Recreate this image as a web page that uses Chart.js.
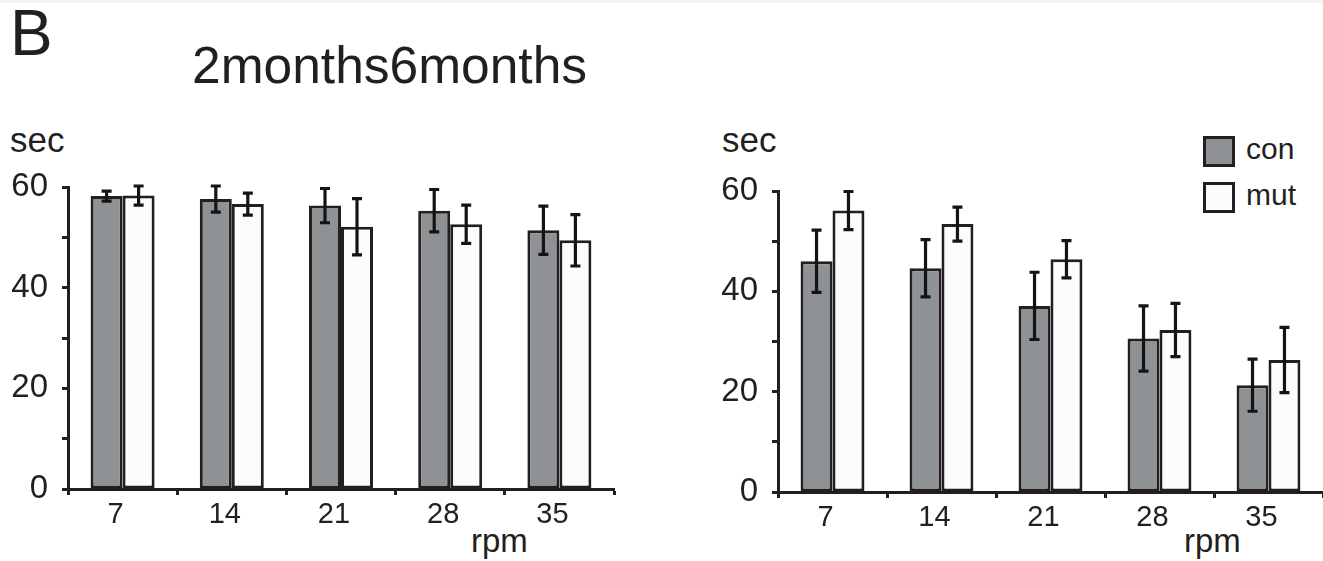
<!DOCTYPE html>
<html>
<head>
<meta charset="utf-8">
<script src="https://cdn.jsdelivr.net/npm/chart.js@4.4.1/dist/chart.umd.min.js"></script>
<style>
  html, body { margin: 0; padding: 0; background: #ffffff; }
  body { width: 1323px; height: 561px; position: relative; overflow: hidden;
         font-family: "Liberation Sans", Arial, sans-serif; color: #231f20; }
  .topband { position: absolute; left: 0; top: 0; width: 1323px; height: 3px; background: #f1f2f4; }
  .txt { position: absolute; white-space: nowrap; line-height: 1; }
  canvas { position: absolute; top: 0; }
  .lg-box { position: absolute; width: 26px; height: 25px; border: 3px solid #231f20; }
</style>
</head>
<body>
<div class="topband"></div>
<div class="txt" id="panel" style="left:10px; top:1px; font-size:64px;">B</div>
<div class="txt" id="title" style="left:192px; top:40px; font-size:51.5px;"></div>
<div class="txt" style="left:10px; top:122px; font-size:35px;">sec</div>
<div class="txt" style="left:722px; top:122px; font-size:35px;">sec</div>
<div class="txt" id="rpmL" style="left:471px; top:524px; font-size:33px;">rpm</div>
<div class="txt" id="rpmR" style="left:1184px; top:524px; font-size:33px;">rpm</div>
<div id="legend"></div>
<canvas id="c2" width="700" height="561" style="left:0px; width:700px; height:561px;"></canvas>
<canvas id="c6" width="623" height="561" style="left:700px; width:623px; height:561px;"></canvas>
<script>
// ---------------- data ----------------
const titleParts = ['2months', '6months'];
const categories = ['7', '14', '21', '28', '35'];
const seriesNames = ['con', 'mut'];
const yTickLabels = [0, 20, 40, 60];

const con2    = [58.2, 57.6, 56.3, 55.3, 51.4];
const conErr2 = [1.0, 2.6, 3.4, 4.2, 4.8];
const mut2    = [58.3, 56.6, 52.1, 52.6, 49.4];
const mutErr2 = [1.9, 2.2, 5.6, 3.8, 5.1];

const con6    = [46.0, 44.6, 37.1, 30.6, 21.3];
const conErr6 = [6.2, 5.7, 6.7, 6.5, 5.2];
const mut6    = [56.1, 53.4, 46.4, 32.3, 26.3];
const mutErr6 = [3.8, 3.4, 3.7, 5.3, 6.5];

// ---------------- styles ----------------
const INK = '#231f20';
const GREY = '#8e9294';
const WHITE = '#fcfcfe';
const FONT = '"Liberation Sans", Arial, sans-serif';

document.getElementById('title').textContent = titleParts.join('');

// legend (HTML)
const legend = document.getElementById('legend');
[[GREY, 136], [WHITE, 182]].forEach((d, i) => {
  const box = document.createElement('div');
  box.className = 'lg-box';
  box.style.left = '1203px';
  box.style.top = d[1] + 'px';
  box.style.background = d[0];
  legend.appendChild(box);
  const t = document.createElement('div');
  t.className = 'txt';
  t.style.left = '1246px';
  t.style.top = (d[1] - 2) + 'px';
  t.style.fontSize = '30px';
  t.textContent = seriesNames[i];
  legend.appendChild(t);
});

const errorBarPlugin = {
  id: 'errorBars',
  afterDatasetsDraw(chart) {
    const ctx = chart.ctx;
    const ys = chart.scales.y;
    ctx.save();
    ctx.strokeStyle = '#141414';
    ctx.lineWidth = 3.2;
    ctx.lineCap = 'butt';
    chart.data.datasets.forEach((ds, i) => {
      const meta = chart.getDatasetMeta(i);
      meta.data.forEach((bar, j) => {
        const v = ds.data[j], e = ds.errors[j];
        const yt = ys.getPixelForValue(v + e);
        const yb = ys.getPixelForValue(v - e);
        const x = bar.x;
        const hw = 5;
        ctx.beginPath();
        ctx.moveTo(x, yt); ctx.lineTo(x, yb);
        ctx.moveTo(x - hw, yt); ctx.lineTo(x + hw, yt);
        ctx.moveTo(x - hw, yb); ctx.lineTo(x + hw, yb);
        ctx.stroke();
      });
    });
    ctx.restore();
  }
};

function makeChart(id, conVals, conErr, mutVals, mutErr, geo) {
  return new Chart(document.getElementById(id), {
    type: 'bar',
    data: {
      labels: categories,
      datasets: [
        { label: seriesNames[0], data: conVals, errors: conErr,
          backgroundColor: GREY, borderColor: INK, borderWidth: 3, borderSkipped: false },
        { label: seriesNames[1], data: mutVals, errors: mutErr,
          backgroundColor: WHITE, borderColor: INK, borderWidth: 3, borderSkipped: false }
      ]
    },
    options: {
      responsive: false,
      animation: false,
      devicePixelRatio: 1,
      datasets: { bar: { categoryPercentage: 0.586, barPercentage: 1.0 } },
      layout: { padding: { left: 0, top: geo.top, right: geo.right, bottom: 0 } },
      plugins: { legend: { display: false }, tooltip: { enabled: false }, title: { display: false } },
      scales: {
        x: {
          offset: true,
          grid: { offset: true, drawOnChartArea: false, drawTicks: true, tickLength: 6,
                  tickColor: INK, tickWidth: 3, color: INK },
          border: { display: true, color: INK, width: 3 },
          ticks: { color: INK, font: { family: FONT, size: 29 }, padding: 3,
                   labelOffset: -7, maxRotation: 0, autoSkip: false },
          afterFit(axis) {
            axis.height = geo.xh;
            axis.paddingLeft = 0; axis.paddingRight = 0;
            axis.paddingTop = 0; axis.paddingBottom = 0;
          }
        },
        y: {
          min: 0, max: 60,
          grid: { drawOnChartArea: false, drawTicks: true, tickLength: 6,
                  tickColor: INK, tickWidth: 3, color: INK },
          border: { display: true, color: INK, width: 3 },
          ticks: {
            stepSize: 10, autoSkip: false, color: INK, padding: 14,
            font: { family: FONT, size: 33 },
            callback: (v) => yTickLabels.includes(v) ? String(v) : ''
          },
          afterFit(axis) {
            axis.width = geo.yw;
            axis.paddingLeft = 0; axis.paddingRight = 0;
            axis.paddingTop = 0; axis.paddingBottom = 0;
          }
        }
      }
    },
    plugins: [errorBarPlugin]
  });
}

makeChart('c2', con2, conErr2, mut2, mutErr2, { top: 187, right: 86, yw: 68, xh: 72 });
makeChart('c6', con6, conErr6, mut6, mutErr6, { top: 191, right: 0, yw: 78, xh: 69 });
</script>
</body>
</html>
